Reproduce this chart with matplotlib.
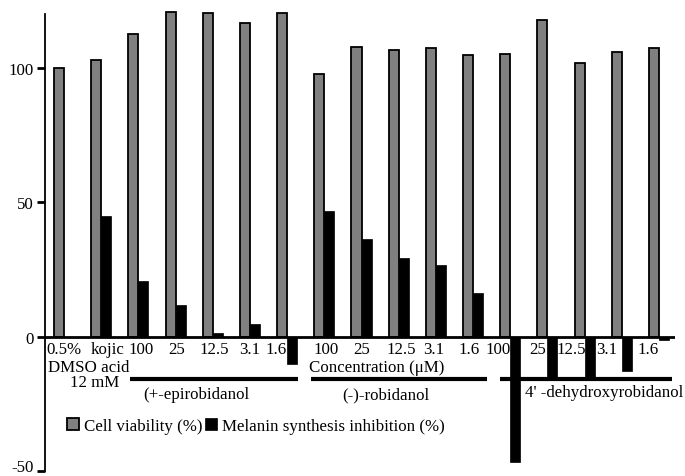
import matplotlib
matplotlib.use("Agg")
import matplotlib.pyplot as plt
import matplotlib.transforms as mtransforms
import numpy as np

plt.rcParams['font.family'] = ['Liberation Serif', 'DejaVu Serif']

categories = ["0.5%", "kojic", "100", "25", "12.5", "3.1", "1.6",
              "100", "25", "12.5", "3.1", "1.6",
              "100", "25", "12.5", "3.1", "1.6"]
viability = [100, 103, 112.4, 120.7, 120.4, 116.6, 120.4,
             97.8, 107.9, 106.7, 107.2, 104.8,
             105.2, 117.8, 101.6, 106.0, 107.2]
melanin = [0, 45, 20.7, 11.6, 1.2, 4.8, -10.3,
           46.8, 36.2, 29.4, 26.8, 16.2,
           -46.6, -15.5, -15.5, -12.8, -1.2]
groups = ["(+-epirobidanol", "(-)-robidanol", "4' -dehydroxyrobidanol"]
group_members = [(2, 6), (7, 11), (12, 16)]
series_names = ["Cell viability (%)", "Melanin synthesis inhibition (%)"]

W, H = 685, 477
fig = plt.figure(figsize=(W / 100, H / 100), dpi=100)
ax = fig.add_axes([45 / W, (H - 472) / H, (675 - 45) / W, (472 - 15) / H])

x = np.arange(len(categories))
bw = 0.27
b1 = ax.bar(x - bw / 2, viability, bw, color='#808080', edgecolor='black',
            linewidth=1.3, clip_on=False, zorder=2, label=series_names[0])
b2 = ax.bar(x + bw / 2, melanin, bw, color='black', edgecolor='black',
            linewidth=0.5, clip_on=False, zorder=2, label=series_names[1])

ax.set_xlim(-0.511, 16.43)
ax.set_ylim(-50, 120)
ax.axhline(0, color='black', lw=2, zorder=3)

for s in ['top', 'right', 'bottom']:
    ax.spines[s].set_visible(False)
ax.spines['left'].set_linewidth(1.3)
ax.set_xticks([])
ax.set_yticks([-50, 0, 50, 100])
ax.set_yticklabels(['-50', '0', '50', '100'])
fs = 12.2
ax.tick_params(axis='y', direction='out', length=6, width=2, pad=2,
               labelsize=fs)
lowest = ax.get_yticklabels()[0]
lowest.set_transform(lowest.get_transform() +
                     mtransforms.ScaledTranslation(0, 6 / 100,
                                                   fig.dpi_scale_trans))

label_shift = [0, 0.16, 0.08, 0.03, 0.03, 0, -0.3,
               0.05, 0, 0.06, -0.05, -0.1,
               -0.32, -0.27, -0.35, -0.4, -0.3]
for i, lab in enumerate(categories):
    ax.text(i + label_shift[i], -6.1, lab, ha='center', va='baseline',
            fontsize=fs, zorder=5)

ax.text(-0.43, -12.7, "DMSO acid", ha='left', va='baseline', fontsize=fs)
ax.text(0.83, -18.4, "12 mM", ha='center', va='baseline', fontsize=fs)
ax.text(8.42, -12.7, "Concentration (\u03bcM)", ha='center', va='baseline',
        fontsize=fs)

pads = [(0.22, 0.29), (0.36, 0.37), (0.28, 0.35)]
label_x = [3.55, 8.66, 14.52]
label_y = [-23.0, -23.0, -22.1]
for (a, b), (pl, pr), gname, lx, ly in zip(group_members, pads, groups,
                                           label_x, label_y):
    ax.plot([a - pl, b + pr], [-15.8, -15.8], color='black', lw=3,
            solid_capstyle='butt', clip_on=False, zorder=4)
    ax.text(lx, ly, gname, ha='center', va='baseline', fontsize=fs)

leg = ax.legend(handles=[b1, b2], loc='center left',
                bbox_to_anchor=(67 / W, 1 - 427 / H),
                bbox_transform=fig.transFigure, ncol=2, frameon=False,
                fontsize=fs, handlelength=0.7, handleheight=0.7,
                handletextpad=0.3, columnspacing=0.15, borderpad=0,
                borderaxespad=0)

fig.savefig("out.png", dpi=100)
